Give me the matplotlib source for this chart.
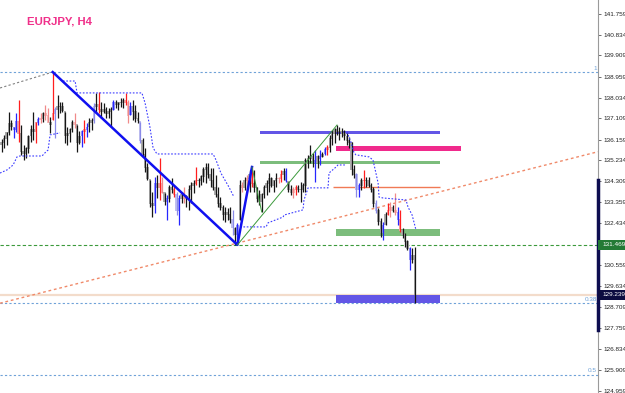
import matplotlib.pyplot as plt
import matplotlib.transforms as mtransforms
from matplotlib.patches import Rectangle

# EURJPY H4 bars (price)
highs = [
    136.20, 136.37, 136.50, 137.39, 137.04, 136.72, 137.35, 137.93, 136.81, 135.92, 135.83,
    136.37, 136.81, 137.39, 136.95, 137.17, 137.35, 137.39, 137.70, 137.57, 137.17,
    139.17, 137.61, 138.15, 137.84, 137.84, 137.39, 136.72, 136.68, 137.04, 137.35,
    136.81, 136.55, 136.59, 137.04, 136.90, 137.13, 137.13, 137.79, 138.24, 138.28,
    137.84, 137.79, 137.61, 137.57, 137.61, 137.93, 137.93, 137.84, 138.02, 138.02,
    138.24, 137.93, 137.84, 137.93, 137.70, 137.39, 136.95, 136.23, 135.79, 135.12,
    134.36, 133.83, 134.50, 134.59, 135.34, 134.50, 133.78, 133.69, 134.14, 134.45,
    134.14, 133.83, 133.69, 133.83, 134.05, 133.69, 134.14, 134.27, 134.36, 134.94, 134.45,
    134.59, 134.94, 135.12, 135.12, 134.90, 134.90, 134.59, 134.05, 133.60, 133.25,
    133.16, 133.11, 133.16, 133.03, 132.27, 132.45, 134.36, 134.27, 134.50, 134.59,
    134.81, 134.94, 134.81, 134.05, 133.92, 133.78, 134.14, 134.36, 134.67, 134.50,
    134.36, 134.67, 134.50, 134.81, 134.90, 134.90, 134.27, 134.14, 134.05, 134.14, 134.14,
    134.27, 134.23, 135.34, 135.48, 135.92, 135.57, 135.70, 135.48, 135.70,
    135.61, 135.83, 135.92, 136.37, 136.59, 136.68, 136.81, 136.72, 136.68, 136.59,
    136.46, 136.28, 136.06, 135.03, 134.67, 134.23, 134.45, 134.81, 134.50,
    134.50, 134.23, 134.05, 133.47, 133.11, 132.67, 132.49, 132.94, 133.34, 133.38,
    133.25, 133.78, 133.16, 133.03, 132.22, 132.00, 131.69, 131.38, 131.33, 131.38,
]
lows = [
    135.60, 135.79, 135.92, 136.37, 136.59, 136.23, 136.50, 136.06, 135.48, 135.25, 135.34,
    135.57, 136.06, 136.14, 136.01, 136.81, 136.90, 136.95, 137.04, 136.95, 136.46,
    137.04, 136.23, 137.13, 137.35, 137.39, 136.01, 135.92, 136.06, 136.50, 136.68,
    135.61, 135.95, 135.83, 136.01, 136.28, 136.50, 136.59, 136.90, 137.35, 137.35,
    137.13, 137.35, 137.13, 137.13, 136.72, 137.48, 137.57, 137.48, 137.61, 137.57,
    137.70, 136.90, 137.26, 137.04, 136.95, 136.90, 136.01, 135.39, 134.72, 134.36,
    133.16, 132.71, 132.89, 133.56, 133.47, 133.78, 133.25, 132.58, 133.38, 133.78,
    133.60, 132.80, 132.36, 133.34, 133.34, 133.16, 133.03, 133.34, 133.78, 134.14, 134.05,
    134.14, 134.27, 134.23, 134.45, 134.05, 133.92, 133.60, 133.16, 133.03, 132.58,
    132.49, 132.58, 132.45, 131.91, 131.47, 131.47, 132.58, 133.83, 133.92, 133.83,
    133.83, 134.05, 133.83, 133.38, 133.25, 132.94, 133.56, 133.69, 133.83, 134.05,
    133.83, 134.05, 134.23, 134.27, 134.36, 134.27, 133.83, 133.69, 133.56, 133.69, 133.83,
    133.38, 133.83, 133.83, 134.90, 135.12, 134.94, 134.27, 134.90, 135.03,
    135.39, 135.48, 135.48, 135.61, 135.92, 136.01, 136.37, 136.14, 136.28, 136.14,
    135.92, 135.79, 134.59, 134.45, 133.60, 133.60, 133.92, 134.01, 134.05,
    134.05, 133.83, 133.16, 132.89, 132.36, 131.82, 131.69, 132.36, 132.80, 132.71,
    132.94, 132.80, 132.36, 132.04, 131.78, 131.38, 131.24, 130.35, 130.66, 128.88,
]
closes = [
    136.00, 136.20, 136.45, 136.85, 136.70, 136.60, 136.95, 136.40, 135.60, 135.50, 135.75,
    136.30, 136.60, 136.50, 136.90, 137.05, 137.10, 137.30, 137.20, 136.90, 136.80,
    137.30, 137.50, 137.60, 137.60, 137.45, 136.30, 136.40, 136.60, 136.90, 136.80,
    136.00, 136.30, 136.50, 136.60, 136.70, 136.90, 137.00, 137.60, 137.70, 137.50,
    137.40, 137.50, 137.30, 137.40, 137.50, 137.80, 137.70, 137.80, 137.80, 137.90,
    137.80, 137.20, 137.60, 137.40, 137.10, 137.00, 136.10, 135.50, 134.90, 134.40,
    133.30, 133.20, 134.20, 134.00, 134.20, 133.80, 133.40, 133.50, 134.00, 133.90,
    133.70, 133.00, 133.50, 133.70, 133.50, 133.60, 133.90, 134.10, 134.20, 134.30, 134.30,
    134.50, 134.80, 134.90, 134.60, 134.30, 134.00, 133.70, 133.30, 133.10, 132.80,
    132.90, 132.80, 132.60, 132.20, 131.90, 132.30, 134.10, 134.00, 134.30, 134.40,
    134.60, 134.20, 134.00, 133.50, 133.40, 133.70, 134.00, 134.20, 134.40, 134.10,
    134.30, 134.40, 134.40, 134.60, 134.70, 134.30, 133.90, 133.80, 133.90, 134.00, 133.90,
    133.90, 134.10, 135.20, 135.30, 135.40, 135.20, 135.10, 135.40, 135.30,
    135.50, 135.70, 135.80, 136.20, 136.40, 136.60, 136.50, 136.50, 136.40, 136.30,
    136.10, 136.00, 134.80, 134.60, 133.90, 134.10, 134.30, 134.30, 134.30,
    134.10, 133.90, 133.30, 133.00, 132.50, 132.00, 132.30, 132.80, 133.00, 133.10,
    133.00, 132.90, 132.60, 132.10, 131.90, 131.60, 131.30, 130.80, 131.00, 129.24,
]
first_open = 135.90
bar_colors = ("kkkkkbbrkkkkkkrbpkppkrlkkkkkkkpkkbrbkklkr"
              "kkkkkbkkkkrpbkkklkkkkkbkrpkbkkrlbkpkkkkrk"
              "kkkkkkkkkkkkklkbkpkpkrkkkkkkkkkkprkbkkprk"
              "kkkkkkbkbkbrkkkkkkkkkkklbkrkkkklkkbkrpkpbrkkkbkk")

# zigzag, trend line, indicator levels
zz_prev_x, zz_prev_y = [-0.7, 21], [138.46, 139.17]
zz_x, zz_y = [21, 97, 103], [139.17, 131.47, 134.94]
leg_x, leg_y = [97, 138], [131.47, 136.81]
leg2_x, leg2_y = [103, 107], [134.94, 132.94]
trend_x, trend_y = [-0.7, 245.4], [128.87, 135.62]
fib_levels = [139.17, 128.88, 125.69]
fib_labels = ["1", "0.38", "0.5"]
zigzag_low = 131.47
last_price = 129.24

# dotted channel (trailing stop) segments
stop_segments = [
    ([-0.7, 2.2, 4.7, 6.3, 7.5, 16.6, 17.8, 19.1, 19.9, 24.0],
     [134.67, 134.81, 135.03, 135.39, 135.43, 135.43, 135.57, 135.70, 136.37, 136.46]),
    ([25.2, 30.2, 31.0, 57.7, 59.0, 61.0, 62.3, 63.9, 87.0, 88.2, 90.2, 93.5, 95.6],
     [138.77, 138.77, 138.24, 138.24, 137.79, 136.72, 135.79, 135.52, 135.52, 135.25,
      134.67, 134.05, 133.60]),
    ([98.1, 108.8, 109.6, 115.8, 116.2, 124.0, 124.4, 126.1, 134.3, 134.7, 137.6, 138.4, 141.7],
     [132.27, 132.27, 132.45, 132.71, 132.80, 133.03, 133.47, 134.01, 134.01, 134.67,
      134.94, 135.03, 135.03]),
    ([142.1, 142.9, 143.7, 145.0, 145.8, 151.2, 152.8, 154.0, 154.9, 155.3, 156.9, 166.4,
      167.2, 168.9, 170.5],
     [136.50, 136.28, 136.06, 135.57, 135.48, 135.39, 135.25, 134.67, 134.23, 133.60,
      133.56, 133.47, 133.16, 132.80, 132.13]),
]

# supply / demand zones
zone_start = [106.3, 106.3, 137.6, 137.6, 137.6]
zone_end = [180.4, 180.4, 189.0, 180.4, 180.4]
zone_top = [136.56, 135.22, 135.88, 132.18, 129.24]
zone_bottom = [136.41, 135.07, 135.65, 131.87, 128.90]
zone_colors = ["#6356e6", "#7cbd7c", "#f02a8c", "#7cbd7c", "#6356e6"]
mid_line = 134.04
mid_line_span = [136.3, 180.4]

yticks = [141.759, 140.834, 139.909, 138.959, 138.034, 137.109, 136.159, 135.234,
          134.309, 133.359, 132.434, 130.559, 129.634, 128.709, 127.759, 126.834,
          125.909, 124.959]

line_col = {"k": "#161616", "r": "#ff1e1e", "p": "#f08a8a", "b": "#2626ff", "l": "#8a8ae8"}
body_col = {"k": "#acacac", "r": "#f5a8a8", "p": "#f7c0c0", "b": "#9c9cf4", "l": "#c0c0f0"}

fig = plt.figure(figsize=(6.25, 3.93), dpi=100)
fig.patch.set_facecolor("white")
ax = fig.add_axes([0, 0, 598 / 625, 1])
ax.set_facecolor("white")
ax.set_xlim(-0.7, 245.4)
ax.set_ylim(124.87, 142.38)

# horizontal levels
for lvl in fib_levels:
    ax.axhline(lvl, color="#6fa2d8", lw=0.8, ls=(0, (2, 2)))
ax.axhline(zigzag_low, color="#3c9a3c", lw=0.8, ls=(0, (3, 2)))
ax.axhline(last_price, color="#f3dccb", lw=1.6)
ax.plot(trend_x, trend_y, color="#f08a6a", lw=1.0, ls=(0, (2, 2)))

# zones
for x0, x1, top, bot, c in zip(zone_start, zone_end, zone_top, zone_bottom, zone_colors):
    ax.add_patch(Rectangle((x0, bot), x1 - x0, top - bot, facecolor=c, edgecolor="none", zorder=2))
ax.hlines(mid_line, mid_line_span[0], mid_line_span[1], color="#f07a55", lw=1.0, zorder=2)

# bars
opens = [first_open] + closes[:-1]
for i in range(len(closes)):
    c = bar_colors[i]
    o = min(max(opens[i], lows[i]), highs[i])
    ax.add_patch(Rectangle((i - 0.5, min(o, closes[i])), 1.0, abs(closes[i] - o) + 0.04,
                           facecolor=body_col[c], edgecolor="none", zorder=3))
    ax.vlines(i, lows[i], highs[i], color=line_col[c], lw=0.9, zorder=4)

# channel
for xs, ys in stop_segments:
    ax.plot(xs, ys, color="#3a3aff", lw=0.8, ls=(0, (1.5, 1.5)), zorder=5)

# zigzag
ax.plot(zz_prev_x, zz_prev_y, color="#808080", lw=0.8, ls=(0, (2, 2)), zorder=5)
ax.plot(zz_x, zz_y, color="#1010f0", lw=1.8, zorder=6)
ax.plot(leg_x, leg_y, color="#3c9a3c", lw=0.7, zorder=6)
ax.plot(leg2_x, leg2_y, color="#3c9a3c", lw=0.7, zorder=6)

# fib labels
for lvl, lab in zip(fib_levels, fib_labels):
    ax.text(245.0, lvl + 0.06, lab, ha="right", va="bottom", fontsize=4.6,
            color="#6fa2d8", family="Liberation Sans")

# price axis
for s in ["top", "left", "bottom"]:
    ax.spines[s].set_visible(False)
ax.spines["right"].set_color("#9a9a9a")
ax.spines["right"].set_linewidth(0.8)
ax.set_xticks([])
ax.yaxis.tick_right()
ax.set_yticks(yticks)
ax.set_yticklabels([f"{v:.3f}" for v in yticks])
ax.tick_params(axis="y", length=2.5, width=0.6, color="#555555", pad=1.2,
               labelsize=4.6, labelcolor="#222222")
for t in ax.get_yticklabels():
    t.set_family("Liberation Sans")

trans = mtransforms.blended_transform_factory(ax.transAxes, ax.transData)
ax.plot([1.0, 1.0], [127.68, 134.36], transform=trans, color="#0d0d50", lw=2.5,
        clip_on=False, zorder=7)
for price, txt, fc in [(zigzag_low, "131.469", "#237a35"), (last_price, "129.239", "#0c0c40")]:
    ax.add_patch(Rectangle((1.0, price - 0.22), 0.046, 0.44, transform=trans,
                           facecolor=fc, edgecolor="none", clip_on=False, zorder=8))
    ax.text(1.008, price, txt, transform=trans, ha="left", va="center", fontsize=4.6,
            color="white", family="Liberation Sans", zorder=9, clip_on=False)

fig.text(27 / 625, 1 - 21.5 / 393, "EURJPY, H4", fontsize=8.2, fontweight="bold",
         color="#f0308a", family="Liberation Sans", ha="left", va="center")

fig.savefig("out.png", dpi=100, facecolor="white")
